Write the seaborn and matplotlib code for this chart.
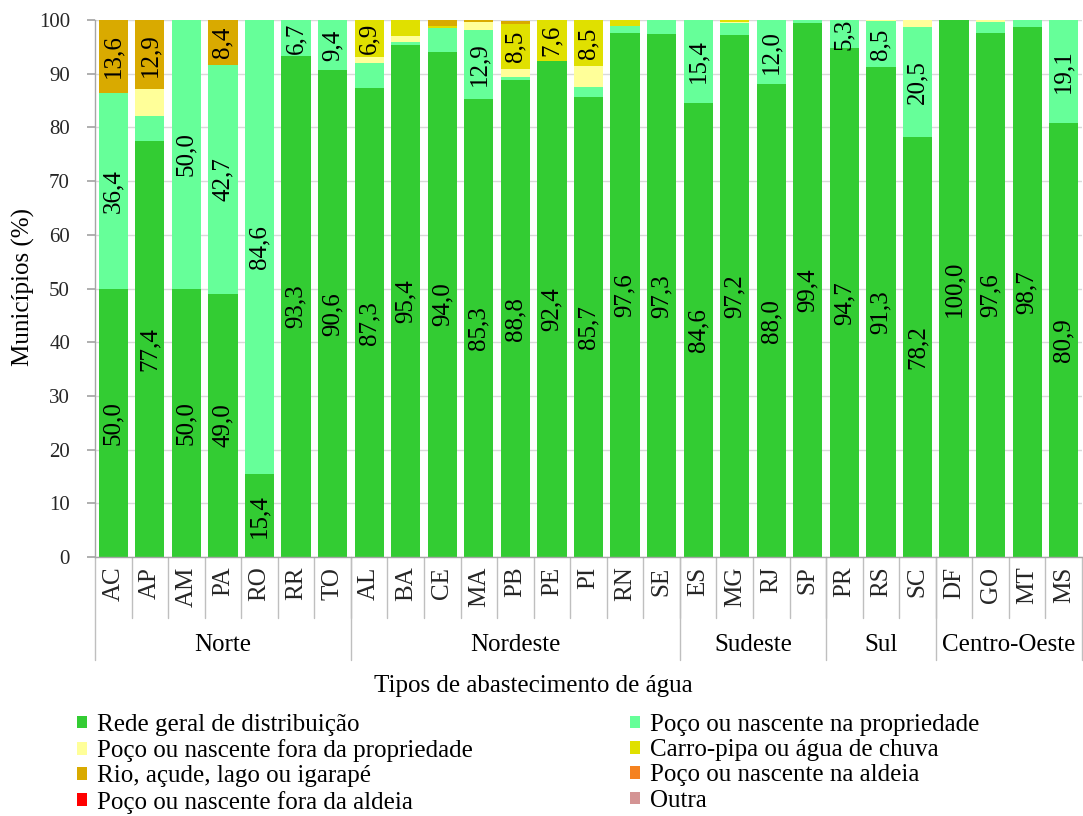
import numpy as np
import pandas as pd
import matplotlib
matplotlib.use("Agg")
import matplotlib.pyplot as plt
import matplotlib.transforms as mtransforms
from matplotlib.patches import Patch
import seaborn as sns

# ---------------- data ----------------
states = ["AC", "AP", "AM", "PA", "RO", "RR", "TO",
          "AL", "BA", "CE", "MA", "PB", "PE", "PI", "RN", "SE",
          "ES", "MG", "RJ", "SP",
          "PR", "RS", "SC",
          "DF", "GO", "MT", "MS"]
regions = ["Norte", "Nordeste", "Sudeste", "Sul", "Centro-Oeste"]
region_sizes = [7, 9, 4, 3, 4]

series_names = ["Rede geral de distribuição",
                "Poço ou nascente na propriedade",
                "Poço ou nascente fora da propriedade",
                "Carro-pipa ou água de chuva",
                "Rio, açude, lago ou igarapé",
                "Poço ou nascente na aldeia",
                "Poço ou nascente fora da aldeia",
                "Outra"]

rede = [50.0, 77.4, 50.0, 49.0, 15.4, 93.3, 90.6,
        87.3, 95.4, 94.0, 85.3, 88.8, 92.4, 85.7, 97.6, 97.3,
        84.6, 97.2, 88.0, 99.4,
        94.7, 91.3, 78.2,
        100.0, 97.6, 98.7, 80.9]
poco_prop = [36.4, 4.8, 50.0, 42.7, 84.6, 6.7, 9.4,
             4.7, 0.5, 4.6, 12.9, 0.5, 0.0, 1.9, 1.2, 2.7,
             15.4, 2.2, 12.0, 0.6,
             5.3, 8.5, 20.5,
             0.0, 2.0, 1.3, 19.1]
poco_fora = [0.0, 4.9, 0.0, 0.0, 0.0, 0.0, 0.0,
             1.1, 1.2, 0.0, 1.4, 1.5, 0.0, 3.9, 0.0, 0.0,
             0.0, 0.3, 0.0, 0.0,
             0.0, 0.2, 1.3,
             0.0, 0.4, 0.0, 0.0]
carro_pipa = [0.0, 0.0, 0.0, 0.0, 0.0, 0.0, 0.0,
              6.9, 2.9, 0.3, 0.0, 8.5, 7.6, 8.5, 1.2, 0.0,
              0.0, 0.3, 0.0, 0.0,
              0.0, 0.0, 0.0,
              0.0, 0.0, 0.0, 0.0]
rio = [13.6, 12.9, 0.0, 8.4, 0.0, 0.0, 0.0,
       0.0, 0.0, 1.1, 0.4, 0.6, 0.0, 0.0, 0.0, 0.0,
       0.0, 0.0, 0.0, 0.0,
       0.0, 0.0, 0.0,
       0.0, 0.0, 0.0, 0.0]
aldeia = [0.0] * 27
fora_aldeia = [0.0] * 27
outra = [0.0] * 27

series_values = [rede, poco_prop, poco_fora, carro_pipa, rio,
                 aldeia, fora_aldeia, outra]
colors = ["#33CC33", "#66FF99", "#FFFF99", "#E0E000", "#D9AA00",
          "#F58220", "#FF0000", "#D49494"]

# ---------------- style ----------------
sns.set_theme(style="white")
plt.rcParams["font.family"] = ["Liberation Serif", "DejaVu Serif"]
plt.rcParams["text.color"] = "black"

W, H = 1083, 816
fig = plt.figure(figsize=(W / 100, H / 100), dpi=100)
ax = fig.add_axes([95 / W, 1 - 557 / H, (1082 - 95) / W, (557 - 20) / H])

bottom = np.zeros(len(states))
for name, vals, col in zip(series_names, series_values, colors):
    df = pd.DataFrame({"estado": states, "valor": vals})
    sns.barplot(data=df, x="estado", y="valor", order=states, color=col,
                bottom=bottom.copy(), width=0.80, errorbar=None,
                linewidth=0, saturation=1, ax=ax)
    vals_arr = np.asarray(vals)
    for i, v in enumerate(vals_arr):
        if v >= 5:
            ax.text(i, bottom[i] + v / 2, f"{v:.1f}".replace(".", ","),
                    rotation=90, ha="center", va="center", fontsize=18,
                    color="black", clip_on=True)
    bottom += vals_arr

ax.set_xlim(-0.5, len(states) - 0.5)
ax.set_ylim(0, 100)
ax.set_yticks(np.arange(0, 101, 10))
ax.set_yticklabels([str(t) for t in range(0, 101, 10)], fontsize=15)
ax.yaxis.grid(True, color="#D9D9D9", linewidth=1)
ax.set_axisbelow(True)
ax.tick_params(axis="y", length=6, color="#A6A6A6", pad=12, left=True)
ax.set_xticks(range(len(states)))
ax.set_xticklabels(states, rotation=90, fontsize=18, va="top")
ax.tick_params(axis="x", length=0, pad=7)
ax.set_xlabel("")
ax.set_ylabel("")
for s in ["top", "right"]:
    ax.spines[s].set_visible(False)
for s in ["left", "bottom"]:
    ax.spines[s].set_color("#A6A6A6")
    ax.spines[s].set_linewidth(1)

# category separators and region separators
trans = mtransforms.blended_transform_factory(ax.transData, ax.transAxes)
for i in range(len(states) - 1):
    ax.plot([i + 0.5, i + 0.5], [0, -0.113], transform=trans,
            color="#BFBFBF", lw=1, clip_on=False)
edges = np.concatenate([[0], np.cumsum(region_sizes)]) - 0.5
for e in edges:
    ax.plot([e, e], [0, -0.192], transform=trans,
            color="#BFBFBF", lw=1, clip_on=False)
for k, reg in enumerate(regions):
    c = (edges[k] + edges[k + 1]) / 2
    ax.text(c, -0.163, reg, transform=trans, ha="center", va="center",
            fontsize=18)

fig.text(533 / W, 1 - 686 / H, "Tipos de abastecimento de água",
         ha="center", va="center", fontsize=18)
fig.text(23 / W, 1 - 287 / H, "Municípios (%)", rotation=90,
         ha="center", va="center", fontsize=18)

# legend (row-wise order as in reference)
handles = [Patch(facecolor=c, edgecolor="none", label=n)
           for n, c in zip(series_names, colors)]
order = [0, 2, 4, 6, 1, 3, 5, 7]
fig.legend([handles[i] for i in order], [series_names[i] for i in order],
           ncol=2, loc="upper left", bbox_to_anchor=(77 / W, 1 - 714 / H),
           frameon=False, fontsize=18, handlelength=0.4, handleheight=0.4,
           handletextpad=0.4, columnspacing=6.3, labelspacing=0.13,
           borderpad=0, borderaxespad=0)

fig.savefig("out.png", dpi=100)
